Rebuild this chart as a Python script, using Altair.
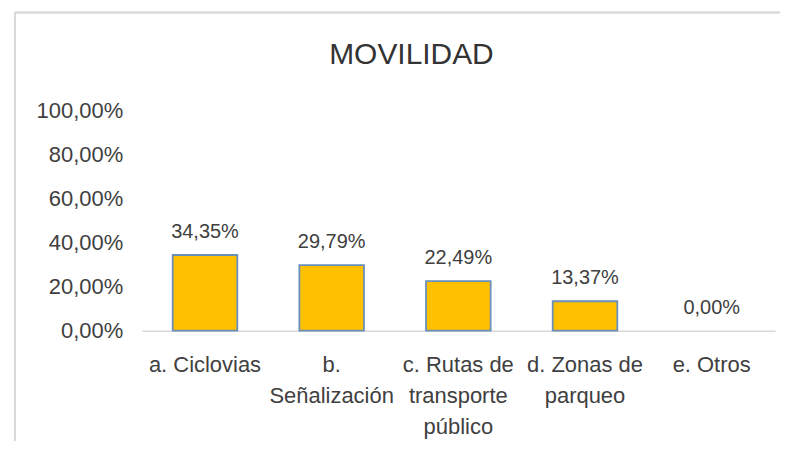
import altair as alt
import pandas as pd

categories = ["a. Ciclovias", "b.|Señalización", "c. Rutas de|transporte|público", "d. Zonas de|parqueo", "e. Otros"]
values = [0.3435, 0.2979, 0.2249, 0.1337, 0.0]
labels = ["34,35%", "29,79%", "22,49%", "13,37%", "0,00%"]
y_ticks = [0, 0.2, 0.4, 0.6, 0.8, 1.0]

df = pd.DataFrame({"cat": categories, "val": values, "lab": labels})

FONT = "Liberation Sans, Arial, sans-serif"
TXT = "#404040"

x = alt.X("cat:N", sort=categories, title=None,
          scale=alt.Scale(paddingInner=0.49, paddingOuter=0.245),
          axis=alt.Axis(labelAngle=0, labelExpr="split(datum.label, '|')",
                        labelFont=FONT, labelFontSize=22, labelColor=TXT,
                        labelLineHeight=31, labelPadding=24, ticks=False,
                        domainColor="#d9d9d9", domainWidth=1.5,
                        labelBaseline="top", labelLimit=200))
y = alt.Y("val:Q", title=None,
          scale=alt.Scale(domain=[0, 1]),
          axis=alt.Axis(values=y_ticks, grid=False, domain=False, ticks=False,
                        labelExpr="replace(format(datum.value, '.2%'), '.', ',')",
                        labelFont=FONT, labelFontSize=22, labelColor=TXT,
                        labelPadding=19))

bars = alt.Chart(df).mark_bar(color="#FFC000", strokeWidth=1.8).encode(
    x=x, y=y,
    stroke=alt.condition("datum.val > 0", alt.value("#6A8FB8"), alt.value("transparent")))
text = alt.Chart(df).mark_text(font=FONT, fontSize=20, color=TXT, baseline="bottom", dy=-13).encode(
    x=alt.X("cat:N", sort=categories), y="val:Q", text="lab:N")

frame_top = alt.Chart(df).mark_rule(color="#d9d9d9", strokeWidth=1.5).encode(
    x=alt.value(-127), x2=alt.value(640), y=alt.value(-98))
frame_left = alt.Chart(df).mark_rule(color="#d9d9d9", strokeWidth=1.5).encode(
    x=alt.value(-127), y=alt.value(-98), y2=alt.value(360))

chart = alt.layer(frame_top, frame_left, bars, text).properties(
    width=635, height=221,
    title=alt.TitleParams("MOVILIDAD", font=FONT, fontSize=30, fontWeight="normal",
                          color="#333333", anchor="middle", frame="group", offset=-58, dx=-47),
    autosize=alt.AutoSizeParams(type="none"),
    padding={"left": 134, "top": 102, "right": 5, "bottom": 110},
).configure_view(stroke="transparent", strokeWidth=0)

chart.save("out.html", embed_options={"renderer": "svg", "actions": False})
